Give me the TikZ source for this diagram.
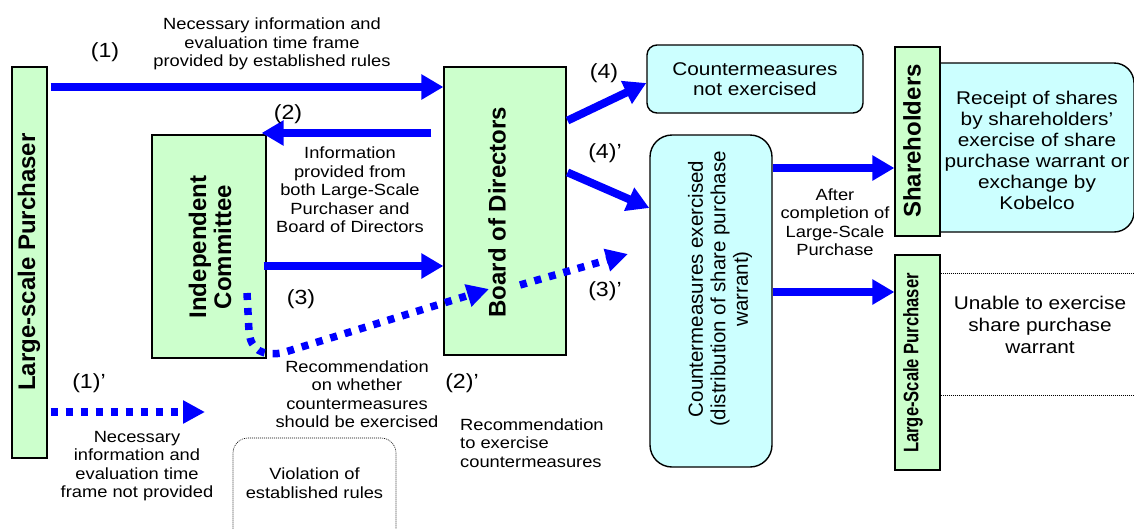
\documentclass[tikz,border=0pt]{standalone}
\usepackage{fontspec}
\setmainfont{Liberation Sans}[FakeStretch=1.13]
\newfontfamily\rfont{Liberation Sans}
\newfontfamily\nfont{Liberation Sans}[FakeStretch=0.79]
\usetikzlibrary{arrows.meta}
\definecolor{boxgreen}{HTML}{CCFFCC}
\definecolor{boxcyan}{HTML}{CCFFFF}
\definecolor{arrblue}{HTML}{0000FF}
\newcommand\myfs[2]{\fontsize{#1}{#2}\selectfont}
\tikzset{
 gbox/.style={draw=black, line width=1.2pt, fill=boxgreen, inner sep=0pt},
 cbox/.style={draw=black, line width=1.4pt, fill=boxcyan, inner sep=0pt},
 lbl/.style={font=\myfs{16.2}{18.5}, align=center, inner sep=0pt},
 big/.style={font=\myfs{18.4}{21}, align=center, inner sep=0pt},
 num/.style={font=\myfs{20.5}{22}, inner sep=0pt},
 rbold/.style={rotate=90, font=\rfont\bfseries\myfs{24}{25}, align=center, inner sep=0pt},
 arr/.style={draw=arrblue, line width=8pt, -{Triangle[length=22pt,width=24pt]}},
 dotarr/.style={draw=arrblue, line width=7.5pt, dash pattern=on 7pt off 8pt, -{Triangle[length=22pt,width=22pt]}},
 thindot/.style={draw=black, line width=0.6pt, dash pattern=on 1pt off 1pt},
}
\begin{document}
\begin{tikzpicture}[x=1pt,y=-1pt]
\useasboundingbox (0,0) rectangle (1134,528);

% boxes
\node[thindot, rounded corners=15pt, minimum width=163pt, minimum height=120pt] (viol) at (314.5,498) {};
\node[lbl] (violtxt) at (314.5,483) {Violation of\\established rules};

\node[gbox, minimum width=35pt, minimum height=391pt] (lp) at (29.5,262.5) {};
\node[rbold] (lptxt) at (29,262) {Large-scale Purchaser};

\node[gbox, minimum width=114pt, minimum height=223pt] (ic) at (209,246.5) {};
\node[rbold] (ictxt) at (210,247) {Independent\\Committee};

\node[gbox, minimum width=122pt, minimum height=288pt] (bod) at (505,211) {};
\node[rbold] (bodtxt) at (497,212) {Board of Directors};

\node[cbox, rounded corners=10pt, minimum width=216pt, minimum height=68pt, big, font=\myfs{18.4}{20}] (cne) at (755,79) {Countermeasures\\not exercised};

\node[cbox, rounded corners=22pt, minimum width=122pt, minimum height=332pt] (ce) at (711,301) {};
\node[rotate=90, font=\rfont\myfs{20.5}{22.5}, align=center, inner sep=0pt] (cetxt) at (720,289) {Countermeasures exercised\\(distribution of share purchase\\warrant)};

\node[cbox, rounded corners=20pt, minimum width=214pt, minimum height=169pt] (rcpt) at (1027,147.5) {};
\node[big] (rcpttxt) at (1037,150.5) {Receipt of shares\\by shareholders’\\exercise of share\\purchase warrant or\\exchange by\\Kobelco};
\node[gbox, minimum width=45pt, minimum height=189pt] (sh) at (917.5,141.5) {};
\node[rbold] (shtxt) at (912,141) {Shareholders};

\node[gbox, minimum width=45pt, minimum height=215pt] (slp) at (917.5,362.5) {};
\node[rotate=90, font=\nfont\bfseries\myfs{21}{22}, inner sep=0pt] (slptxt) at (913,363) {Large-Scale Purchaser};

\coordinate (u1) at (1134,273);
\coordinate (u2) at (1134,395);
\draw[thindot] (slp.east |- u1) -- (u1);
\draw[thindot] (slp.east |- u2) -- (u2);
\node[big, font=\myfs{18.4}{22}] (unable) at (1040,325) {Unable to exercise\\share purchase\\warrant};

% solid arrows
\draw[arr, shorten <=3pt] (lp.east |- 0,87) -- (bod.west |- 0,87);
\draw[arr, shorten <=12pt, shorten >=-5pt] (bod.west |- 0,133) -- (ic.east |- 0,133);
\draw[arr, shorten <=-3pt] (ic.east |- 0,266) -- (bod.west |- 0,266);
\draw[arr, shorten <=1pt] (bod.east |- 0,121) -- ([yshift=-4pt]cne.west);
\draw[arr, shorten <=1pt] (bod.east |- 0,172) -- (ce.west |- 0,208);
\draw[arr] (ce.east |- 0,168) -- (sh.west |- 0,168);
\draw[arr] (ce.east |- 0,292) -- (slp.west |- 0,292);

% dotted arrows
\coordinate (d1e) at (205,412);
\draw[dotarr, shorten <=3pt] (lp.east |- d1e) -- (d1e);
\coordinate (d3s) at (247,293);
\coordinate (d3e) at (489,289);
\draw[dotarr] (d3s) -- (249,332) .. controls (251,350) and (262,356) .. (282,353) -- (d3e);
\coordinate (d4s) at (520,285);
\coordinate (d4e) at (628,254);
\draw[dotarr] (d4s) -- (d4e);

% labels
\node[num] (n1) at (105,52) {(1)};
\node[num] (n2) at (288,114) {(2)};
\node[num] (n3) at (301,299) {(3)};
\node[num] (n3p) at (605,291) {(3)’};
\node[num] (n4) at (604,73) {(4)};
\node[num] (n4p) at (605,153) {(4)’};
\node[num] (n2p) at (462,383) {(2)’};
\node[num] (n1p) at (89,383) {(1)’};

\node[lbl] (t1) at (272,44) {Necessary information and\\evaluation time frame\\provided by established rules};
\node[lbl] (t2) at (350,190) {Information\\provided from\\both Large-Scale\\Purchaser and\\Board of Directors};
\node[lbl] (t3) at (357,394) {Recommendation\\on whether\\countermeasures\\should be exercised};
\node[lbl, align=left, anchor=west] (t4) at (460,443) {Recommendation\\to exercise\\countermeasures};
\node[lbl] (t5) at (137,466) {Necessary\\information and\\evaluation time\\frame not provided};
\node[lbl] (t6) at (835,222) {After\\completion of\\Large-Scale\\Purchase};
\end{tikzpicture}
\end{document}
